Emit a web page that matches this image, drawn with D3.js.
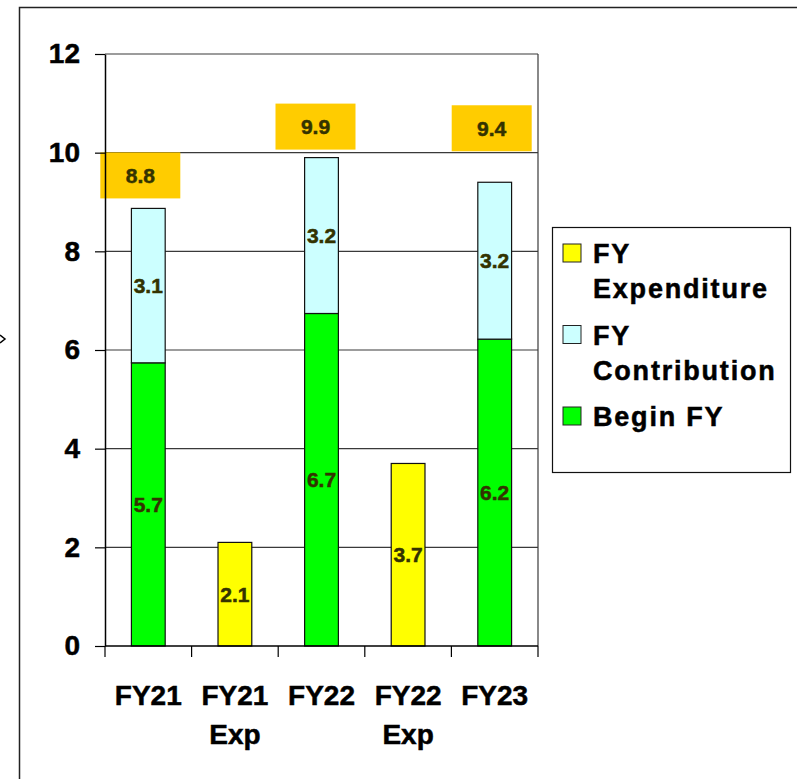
<!DOCTYPE html>
<html>
<head>
<meta charset="utf-8">
<script src="https://cdn.jsdelivr.net/npm/d3@7"></script>
<style>
body { margin: 0; background: #fff; }
svg text { font-family: "Liberation Sans", Arial, sans-serif; font-weight: bold; stroke-width: 0.5px; }
</style>
</head>
<body>
<div id="chart"></div>
<script>
// values
var categories = ["FY21", "FY21 Exp", "FY22", "FY22 Exp", "FY23"];
var beginFY = [5.74, 0, 6.74, 0, 6.22];
var contribution = [3.13, 0, 3.16, 0, 3.18];
var expenditure = [0, 2.1, 0, 3.7, 0];
var totalLabels = [8.8, null, 9.9, null, 9.4];
var yTicks = [0, 2, 4, 6, 8, 10, 12];

var seriesKeys = ["begin", "contribution", "expenditure"];
var seriesNames = {begin: "Begin FY", contribution: "FY Contribution", expenditure: "FY Expenditure"};
var colors = {begin: "#00ff00", contribution: "#ccffff", expenditure: "#ffff00"};

// where the orange total boxes sit relative to the top of each stack (they were placed by hand)
var totalNudge = [[-8, -33], null, [-6, -31], null, [-3, -54]];

var width = 797, height = 779;
var plot = {left: 105, right: 538, top: 54, bottom: 646};

var svg = d3.select("#chart").append("svg")
    .attr("width", width)
    .attr("height", height);

//outer frame, its right and bottom edges fall outside the picture
svg.append("rect")
    .attr("x", 19.5).attr("y", 7.5)
    .attr("width", 820).attr("height", 820)
    .attr("fill", "none")
    .attr("stroke", "#222")
    .attr("stroke-width", 1.5);

//little arrow head cut off at the left edge
svg.append("path")
    .attr("d", "M0,335 L5,339 L0,343")
    .attr("fill", "none")
    .attr("stroke", "#000")
    .attr("stroke-width", 1.5);

var y = d3.scaleLinear().domain([0, 12]).range([plot.bottom, plot.top]);
var x = d3.scaleBand().domain(categories).range([plot.left, plot.right]);
var barW = x.bandwidth() * 0.39;

//gridlines
svg.append("g")
    .selectAll("line")
    .data(yTicks.filter(function(d){ return d > 0; }))
    .enter()
    .append("line")
    .attr("x1", plot.left).attr("x2", plot.right)
    .attr("y1", function(d){ return y(d); })
    .attr("y2", function(d){ return y(d); })
    .attr("stroke", "#3a3a3a")
    .attr("stroke-width", 1.2);

//right edge of plot area
svg.append("line")
    .attr("x1", plot.right).attr("x2", plot.right)
    .attr("y1", plot.top).attr("y2", plot.bottom)
    .attr("stroke", "#3a3a3a")
    .attr("stroke-width", 1.2);

//stacked bars
var rows = categories.map(function(c, i){
    return {cat: c, begin: beginFY[i], contribution: contribution[i], expenditure: expenditure[i]};
});
var stacked = d3.stack().keys(seriesKeys)(rows);
var fmt = d3.format(".1f");

var segs = [];
stacked.forEach(function(layer){
    layer.forEach(function(d, i){
        if (d[1] - d[0] > 0) {
            segs.push({key: layer.key, cat: categories[i], y0: d[0], y1: d[1]});
        }
    });
});

svg.append("g")
    .selectAll("rect")
    .data(segs)
    .enter()
    .append("rect")
    .attr("x", function(d){ return x(d.cat) + (x.bandwidth() - barW) / 2; })
    .attr("y", function(d){ return y(d.y1); })
    .attr("width", barW)
    .attr("height", function(d){ return y(d.y0) - y(d.y1); })
    .attr("fill", function(d){ return colors[d.key]; })
    .attr("stroke", "#111")
    .attr("stroke-width", 1.2);

svg.append("g")
    .selectAll("text")
    .data(segs)
    .enter()
    .append("text")
    .attr("x", function(d){ return x(d.cat) + x.bandwidth() / 2; })
    .attr("y", function(d){ return (y(d.y0) + y(d.y1)) / 2; })
    .attr("dy", "0.35em")
    .attr("text-anchor", "middle")
    .attr("font-size", 21)
    .attr("fill", "#333300")
    .attr("stroke", "#333300")
    .text(function(d){ return fmt(d.y1 - d.y0); });

//totals in orange boxes
var totals = rows.map(function(r, i){
    return {cat: r.cat, top: r.begin + r.contribution + r.expenditure, label: totalLabels[i], nudge: totalNudge[i]};
}).filter(function(d){ return d.label != null; });

var tg = svg.append("g")
    .selectAll("g")
    .data(totals)
    .enter()
    .append("g")
    .attr("transform", function(d){
        return "translate(" + (x(d.cat) + x.bandwidth() / 2 + d.nudge[0]) + "," + (y(d.top) + d.nudge[1]) + ")";
    });
tg.append("rect")
    .attr("x", -40).attr("y", -23)
    .attr("width", 80).attr("height", 46)
    .attr("fill", "#ffcc00");
tg.append("text")
    .attr("dy", "0.35em")
    .attr("text-anchor", "middle")
    .attr("font-size", 21)
    .attr("fill", "#333300")
    .attr("stroke", "#333300")
    .text(function(d){ return fmt(d.label); });

//y axis
var yAxis = svg.append("g")
    .attr("transform", "translate(" + plot.left + ",0)")
    .call(d3.axisLeft(y).tickValues(yTicks).tickSize(10).tickSizeOuter(0).tickPadding(15).tickFormat(d3.format("d")));
yAxis.select(".domain").attr("stroke", "#000").attr("stroke-width", 1.5);
yAxis.selectAll(".tick line").attr("stroke", "#000").attr("stroke-width", 1.2);
yAxis.selectAll(".tick text")
    .attr("font-size", 28)
    .attr("font-family", null)
    .attr("fill", "#000")
    .attr("stroke", "#000");

//x axis with ticks on the category boundaries
svg.append("line")
    .attr("x1", plot.left).attr("x2", plot.right)
    .attr("y1", plot.bottom).attr("y2", plot.bottom)
    .attr("stroke", "#000")
    .attr("stroke-width", 1.5);

var bounds = categories.map(function(c){ return x(c); }).concat([plot.right]);
svg.append("g")
    .selectAll("line")
    .data(bounds)
    .enter()
    .append("line")
    .attr("x1", function(d){ return d; })
    .attr("x2", function(d){ return d; })
    .attr("y1", plot.bottom).attr("y2", plot.bottom + 11)
    .attr("stroke", "#000")
    .attr("stroke-width", 1.2);

var xl = svg.append("g")
    .selectAll("text")
    .data(categories)
    .enter()
    .append("text")
    .attr("text-anchor", "middle")
    .attr("font-size", 28)
    .attr("fill", "#000")
    .attr("stroke", "#000");
xl.selectAll("tspan")
    .data(function(d){ return d.split(" "); })
    .enter()
    .append("tspan")
    .attr("x", function(){ var c = d3.select(this.parentNode).datum(); return x(c) + x.bandwidth() / 2; })
    .attr("y", function(d, i){ return 705 + i * 38.5; })
    .text(function(d){ return d; });

//legend
var legendItems = ["expenditure", "contribution", "begin"];
var legend = svg.append("g");
legend.append("rect")
    .attr("x", 552.5).attr("y", 227.5)
    .attr("width", 238).attr("height", 245)
    .attr("fill", "#fff")
    .attr("stroke", "#111")
    .attr("stroke-width", 1.2);

var li = legend.selectAll("g.item")
    .data(legendItems)
    .enter()
    .append("g")
    .attr("class", "item")
    .attr("transform", function(d, i){ return "translate(563," + (244 + i * 81.5) + ")"; });
li.append("rect")
    .attr("width", 18).attr("height", 18)
    .attr("fill", function(d){ return colors[d]; })
    .attr("stroke", "#222")
    .attr("stroke-width", 1);
li.append("text")
    .attr("font-size", 27)
    .attr("letter-spacing", 1.8)
    .attr("fill", "#000")
    .attr("stroke", "#000")
    .selectAll("tspan")
    .data(function(d){
        var n = seriesNames[d];
        return n.indexOf("FY ") == 0 ? ["FY", n.slice(3)] : [n];
    })
    .enter()
    .append("tspan")
    .attr("x", 30)
    .attr("y", function(d, i){ return 19 + i * 35; })
    .text(function(d){ return d; });
</script>
</body>
</html>
